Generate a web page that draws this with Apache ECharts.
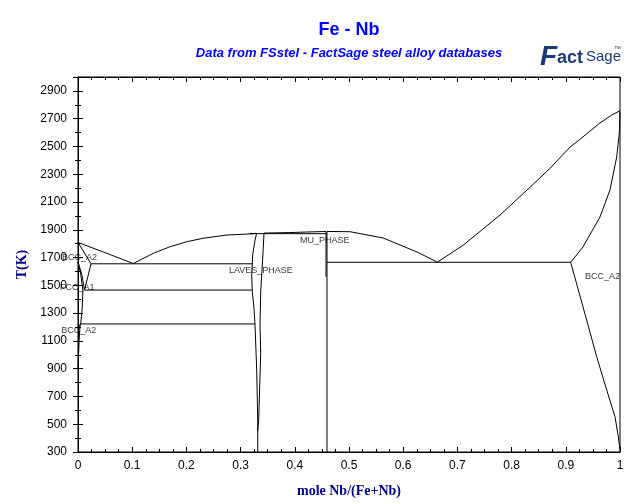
<!DOCTYPE html>
<html><head><meta charset="utf-8">
<script src="https://cdn.jsdelivr.net/npm/echarts@6/dist/echarts.min.js"></script>
<style>html,body{margin:0;padding:0;background:#fff}#c{width:640px;height:504px}</style>
</head><body><div id="c"></div>
<script>
// ---- data (x = mole fraction Nb, T in K) ----
const liqFe = [[0,1809],[0.05,1735],[0.102,1657]];
const liqFeLaves = [[0.102,1657],[0.139,1731],[0.170,1778],[0.2005,1814],[0.231,1839],[0.274,1862],[0.317,1870],[0.33,1875]];
const liqLavesMu = [[0.343,1876],[0.39,1880],[0.4576,1888]];
const liqMuEut = [[0.4594,1888],[0.502,1886],[0.563,1841],[0.6255,1740],[0.663,1667]];
const liqNb = [[0.663,1667],[0.711,1790],[0.7786,2006],[0.834,2206],[0.871,2343],[0.9077,2495],[0.926,2551],[0.963,2669],[0.9847,2726],[1,2757]];
const solidusNb = [[0.909,1666],[0.9317,1776],[0.963,1992],[0.9815,2186],[0.9939,2424],[0.9988,2597],[1,2750]];
const solvusNb = [[0.909,1666],[0.9317,1346],[0.957,986],[0.9755,746],[0.9908,554],[0.9969,410],[1,314]];
const eutecticNb = [[0.4594,1666],[0.909,1666]];
const muLeft = [[0.4576,1886],[0.4576,1560]];
const muRight = [[0.4594,1888],[0.4594,300]];
const peritectic = [[0.317,1872],[0.4576,1872]];
const lavesLeft = [[0.3297,1875],[0.3266,1826],[0.3223,1718],[0.3205,1574],[0.3216,1454],[0.3247,1335],[0.3266,1214],[0.3297,890],[0.3316,530],[0.3316,300]];
const lavesRight = [[0.3432,1875],[0.3408,1697],[0.3371,1454],[0.3358,1214],[0.3371,1013],[0.3334,530],[0.3316,450]];
const eutecticFe = [[0.024,1655],[0.3223,1655]];
const line1466 = [[0.012,1466],[0.3216,1466]];
const line1222 = [[0.004,1222],[0.3266,1222]];
const solidusFe = [[0,1809],[0.024,1655]];
const solvusBccFe = [[0.024,1655],[0.018,1560],[0.012,1466]];
const gammaOuter = [[0,1667],[0.007,1580],[0.012,1466]];
const gammaInner = [[0,1667],[0.005,1580],[0.009,1466],[0.008,1350],[0.005,1222]];
const gammaLow = [[0.005,1222],[0.002,1200],[0,1185]];
const alphaSolvus = [[0.004,1222],[0.002,1100],[0.001,1000],[0,890]];

const phaseLabels = ['BCC_A2','FCC_A1','BCC_A2','LAVES_PHASE','MU_PHASE','BCC_A2'];
const labelX = [-0.0295,-0.033,-0.031,0.2786,0.4096,0.9354];
const labelT = [1697,1481,1178,1610,1826,1560];

const xTicks = {min:0, max:1, interval:0.1};
const yTicks = {min:300, max:3000, interval:200};

const curves = [liqFe, liqFeLaves, liqLavesMu, liqMuEut, liqNb, solidusNb, solvusNb, eutecticNb,
  muLeft, muRight, peritectic, lavesLeft, lavesRight, eutecticFe, line1466, line1222,
  solidusFe, solvusBccFe, gammaOuter, gammaInner, gammaLow, alphaSolvus];

const series = curves.map(d => ({
  type:'line', data:d, symbol:'none', showSymbol:false, silent:true, animation:false,
  lineStyle:{color:'#000', width:1}
}));
series.push({
  type:'scatter', clip:false, symbolSize:0, silent:true, animation:false,
  data: phaseLabels.map((n,i)=>({name:n, value:[labelX[i], labelT[i]]})),
  label:{show:true, formatter:'{b}', position:'right', distance:0, fontSize:9,
    fontFamily:'Liberation Sans, Arial, sans-serif', color:'#000'}
});

const axisTxt = {fontFamily:'Liberation Sans, Arial, sans-serif', fontSize:12, color:'#000'};
const nameTxt = {fontFamily:'Liberation Serif, Times New Roman, serif', fontWeight:'bold', fontSize:14, color:'#000080'};

const chart = echarts.init(document.getElementById('c'), null, {renderer:'canvas'});
chart.setOption({
  animation:false,
  backgroundColor:'#fff',
  grid:{left:78, right:20, top:77, bottom:52, show:true, borderColor:'#000', borderWidth:1,
    containLabel:false, outerBoundsMode:'none'},
  graphic:[
    {type:'text', x:349, y:30, style:{text:'Fe - Nb', textAlign:'center', textVerticalAlign:'middle',
      font:'bold 18px "Liberation Sans", Arial, sans-serif', fill:'#0000ff'}},
    {type:'text', x:349, y:53, style:{text:'Data from FSstel - FactSage steel alloy databases', textAlign:'center', textVerticalAlign:'middle',
      font:'italic bold 13px "Liberation Sans", Arial, sans-serif', fill:'#0000ff'}},
    {type:'text', x:540, y:57, style:{text:'F', textAlign:'left', textVerticalAlign:'middle',
      font:'bold italic 28px "Liberation Sans", Arial, sans-serif', fill:'#1b3a73'}},
    {type:'text', x:557, y:58, style:{text:'act', textAlign:'left', textVerticalAlign:'middle',
      font:'bold 18px "Liberation Sans", Arial, sans-serif', fill:'#1b3a73'}},
    {type:'text', x:586, y:57, style:{text:'Sage', textAlign:'left', textVerticalAlign:'middle',
      font:'15px "Liberation Sans Narrow", "Liberation Sans", Arial, sans-serif', fill:'#1b3a73'}},
    {type:'text', x:614, y:49, style:{text:'™', textAlign:'left', textVerticalAlign:'middle',
      font:'7px "Liberation Sans", Arial, sans-serif', fill:'#1b3a73'}}
  ],
  xAxis:[
    {type:'value', position:'bottom', min:xTicks.min, max:xTicks.max, interval:xTicks.interval,
      axisLine:{show:true, lineStyle:{color:'#000'}}, splitLine:{show:false},
      axisTick:{show:true, inside:true, length:5, lineStyle:{color:'#000'}},
      minorTick:{show:true, splitNumber:4, length:3, lineStyle:{color:'#000'}},
      axisLabel:{...axisTxt, margin:8, formatter:v=>String(Math.round(v*10)/10)},
      name:'mole Nb/(Fe+Nb)', nameLocation:'middle', nameGap:32, nameTextStyle:nameTxt},
    {type:'value', position:'top', min:xTicks.min, max:xTicks.max, interval:xTicks.interval,
      axisLine:{show:true, lineStyle:{color:'#000'}}, splitLine:{show:false},
      axisTick:{show:true, inside:true, length:5, lineStyle:{color:'#000'}},
      minorTick:{show:true, splitNumber:4, length:3, lineStyle:{color:'#000'}},
      axisLabel:{show:false}}
  ],
  yAxis:[
    {type:'value', position:'left', min:yTicks.min, max:yTicks.max, interval:yTicks.interval,
      axisLine:{show:true, lineStyle:{color:'#000'}}, splitLine:{show:false},
      axisTick:{show:true, inside:true, length:5, lineStyle:{color:'#000'}},
      minorTick:{show:true, splitNumber:2, length:3, lineStyle:{color:'#000'}},
      axisLabel:{...axisTxt, margin:11, showMaxLabel:false, formatter:v=>String(v)},
      name:'T(K)', nameLocation:'middle', nameGap:47, nameRotate:90, nameTextStyle:nameTxt},
    {type:'value', position:'right', min:yTicks.min, max:yTicks.max, interval:yTicks.interval,
      axisLine:{show:true, lineStyle:{color:'#000'}}, splitLine:{show:false},
      axisTick:{show:true, inside:true, length:5, lineStyle:{color:'#000'}},
      minorTick:{show:true, splitNumber:2, length:3, lineStyle:{color:'#000'}},
      axisLabel:{show:false}}
  ],
  series: series
});
</script></body></html>
